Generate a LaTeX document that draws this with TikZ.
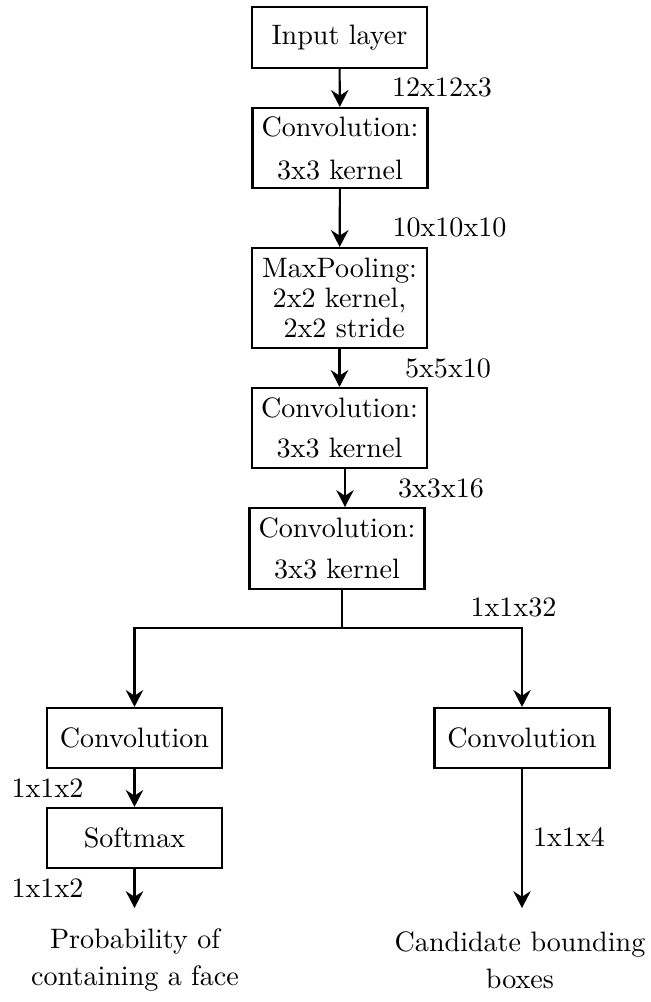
\documentclass[tikz,border=0pt]{standalone}
\usetikzlibrary{arrows.meta}
\begin{document}
\begin{tikzpicture}[x=0.3559pt, y=-0.3559pt,
  layer/.style={draw, line width=0.75pt, minimum width=62.3pt, align=center, inner sep=2pt},
  dimlabel/.style={inner sep=0pt},
  outtext/.style={align=center, inner sep=0pt},
  flow/.style={-{Stealth[length=6pt,width=6.2pt,inset=2pt]}, line width=0.75pt},
  wire/.style={line width=0.75pt}]
\useasboundingbox (0,0) rectangle (651,1002);

% main trunk
\node[layer, minimum height=21.7pt] (in) at (339.5,37.5) {Input layer};
\node[layer, minimum height=28.5pt] (c1) at (340,148) {Convolution:\\[3.3pt]3x3 kernel};
\node[layer, minimum height=35.6pt] (mp) at (339.5,298) {MaxPooling:\\[-1.3pt]2x2 kernel,\\[-1.3pt]\ 2x2 stride};
\node[layer, minimum height=28.5pt] (c2) at (339.5,428) {Convolution:\\[2.3pt]3x3 kernel};
\node[layer, minimum height=28.8pt] (c3) at (337,548.5) {Convolution:\\[2.6pt]3x3 kernel};

% two heads
\node[layer, minimum height=21.4pt] (cl) at (134.5,738) {Convolution};
\node[layer, minimum height=21.4pt] (sm) at (134.5,838) {Softmax};
\node[layer, minimum height=21.4pt] (cr) at (522,738) {Convolution};

% outputs
\node[outtext] (pf) at (135,960) {Probability of\\[1pt]containing a face};
\node[outtext] (bb) at (520,960) {Candidate bounding\\[1pt]boxes};

% tensor sizes
\node[dimlabel] (d1) at (442,87) {12x12x3};
\node[dimlabel] (d2) at (449.5,227) {10x10x10};
\node[dimlabel] (d3) at (448,368) {5x5x10};
\node[dimlabel] (d4) at (441,488) {3x3x16};
\node[dimlabel] (d5) at (513.5,607) {1x1x32};
\node[dimlabel] (d6) at (47.5,788) {1x1x2};
\node[dimlabel] (d7) at (47.5,888) {1x1x2};
\node[dimlabel] (d8) at (569,837) {1x1x4};

% connectors
\coordinate (k) at (345,0);
\coordinate (split) at (342,628);
\coordinate (pend) at (134.5,908);
\coordinate (bend) at (522,908);

\draw[flow] (in) -- (c1);
\draw[flow] (c1) -- (mp);
\draw[flow] (mp) -- (c2);
\draw[flow] (c2.south -| k) -- (c3.north -| k);
\draw[wire] (c3.south -| split) -- (split);
\draw[flow] (split) -| (cl.north);
\draw[flow] (split) -| (cr.north);
\draw[flow] (cl) -- (sm);
\draw[flow] (sm.south) -- (pend);
\draw[flow] (cr.south) -- (bend);
\end{tikzpicture}
\end{document}
